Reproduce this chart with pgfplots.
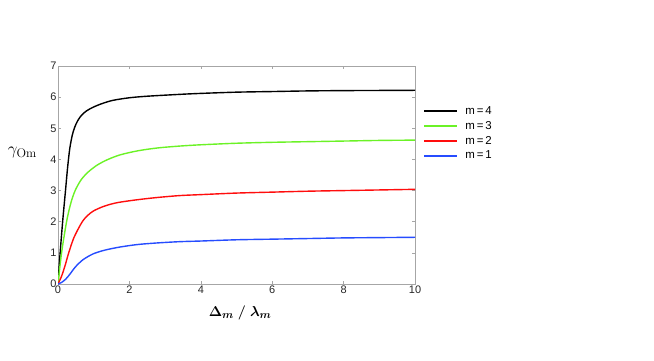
\documentclass[border=0pt]{standalone}
\usepackage{amsmath}
\usepackage{bm}
\usepackage{pgfplots}
\pgfplotsset{compat=1.18}
\usepackage{fontspec}
\newfontfamily\arial{Liberation Sans}
\definecolor{cblack}{rgb}{0,0,0}
\definecolor{cgreen}{rgb}{0.42,0.95,0.15}
\definecolor{cred}{rgb}{1,0.05,0.05}
\definecolor{cblue}{rgb}{0.15,0.3,1}
\begin{document}
\begin{tikzpicture}[x=1bp,y=1bp]
\path[use as bounding box] (0,0) rectangle (654,360);
\begin{axis}[
  at={(58bp,76bp)}, anchor=south west,
  scale only axis, width=357bp, height=218bp,
  xmin=0, xmax=10, ymin=0, ymax=7,
  xtick={0,2,...,10}, ytick={0,1,...,7},
  tick align=inside, tick pos=both,
  major tick length=3bp,
  axis line style={gray!70, line width=0.6bp},
  every tick/.style={gray!70, line width=0.5bp},
  /pgf/number format/assume math mode=true,
  tick label style={font=\arial\fontsize{11}{13}\selectfont, text=black!85},
  xticklabel style={yshift=2bp},
  yticklabel style={xshift=2bp},
  xlabel={$\bm{\Delta_m\;/\;\lambda_m}$},
  xlabel style={at={(axis description cs:0.51,-0.133)}, anchor=center, font=\fontsize{15}{17}\selectfont},
  ylabel={$\gamma_{\mathrm{Om}}$},
  ylabel style={at={(axis description cs:-0.10,0.605)}, anchor=center, rotate=-90, font=\fontsize{18}{20}\selectfont},
  legend style={at={(axis description cs:1.02,0.83)}, anchor=north west, draw=none, fill=none,
    font=\arial\fontsize{11.5}{13}\selectfont, row sep=1.5bp, inner sep=1bp,
    /tikz/every odd column/.style={column sep=5bp}},
  legend cell align=left,
  legend image code/.code={\draw[#1, line width=2bp] (0bp,0bp) -- (33bp,0bp);},
]
\addplot[cblack, line width=1.4bp, smooth] coordinates {
(0,0) (0.06,1.0) (0.13,2.0) (0.21,3.0) (0.27,3.75) (0.33,4.35) (0.4,4.78) (0.47,5.04) (0.55,5.24) (0.66,5.42) (0.8,5.56) (0.99,5.68) (1.25,5.8) (1.55,5.9) (2.0,5.98) (2.5,6.03) (3.42,6.09) (4,6.12) (5,6.16) (6,6.18) (7,6.2) (8,6.21) (9,6.215) (10,6.22)};
\addlegendentry{m\,=\,4}
\addplot[cgreen, line width=1.4bp, smooth] coordinates {
(0,0) (0.1,1.0) (0.24,2.0) (0.36,2.6) (0.48,3.0) (0.65,3.35) (0.85,3.6) (1.1,3.82) (1.4,4.0) (1.75,4.15) (2.25,4.28) (2.8,4.37) (3.42,4.43) (4,4.47) (5,4.52) (6,4.55) (7,4.57) (8,4.59) (9,4.61) (10,4.62)};
\addlegendentry{m\,=\,3}
\addplot[cred, line width=1.4bp, smooth] coordinates {
(0,0) (0.1,0.25) (0.2,0.6) (0.3,1.0) (0.45,1.5) (0.68,2.0) (0.85,2.22) (1.0,2.35) (1.25,2.48) (1.5,2.57) (1.75,2.63) (2.25,2.71) (2.8,2.78) (3.42,2.84) (4,2.87) (5,2.92) (6,2.95) (7,2.98) (8,3.0) (9,3.02) (10,3.04)};
\addlegendentry{m\,=\,2}
\addplot[cblue, line width=1.4bp, smooth] coordinates {
(0,0) (0.1,0.05) (0.22,0.16) (0.35,0.34) (0.48,0.54) (0.7,0.78) (0.99,0.97) (1.32,1.09) (1.75,1.19) (2.25,1.27) (2.8,1.32) (3.42,1.36) (4,1.38) (5,1.42) (6,1.44) (7,1.46) (8,1.48) (9,1.49) (10,1.5)};
\addlegendentry{m\,=\,1}
\end{axis}
\end{tikzpicture}
\end{document}
